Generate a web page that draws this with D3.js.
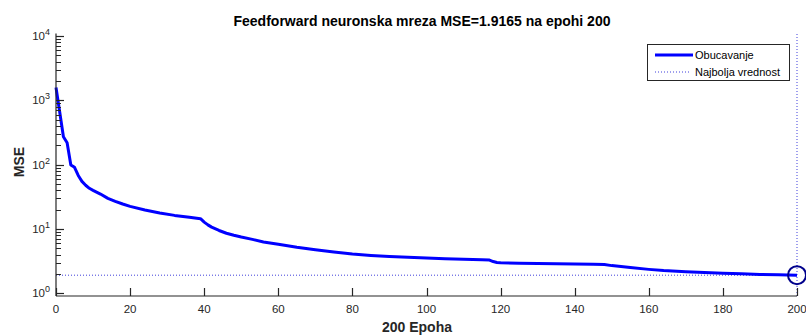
<!DOCTYPE html>
<html>
<head>
<meta charset="utf-8">
<script src="https://cdn.jsdelivr.net/npm/d3@7"></script>
<style>
  html, body { margin: 0; padding: 0; background: #fff; }
  svg { display: block; font-family: "Liberation Sans", Arial, Helvetica, sans-serif; }
</style>
</head>
<body>
<svg id="chart" width="806" height="336"></svg>
<script>
// Training record: epoch and mean squared error
const epochs = [0, 1, 2, 3, 4, 5, 6, 7, 8, 9, 10, 12, 14, 16, 18, 20, 24, 28, 32, 36, 39,
  40, 41, 42, 44, 46, 48, 50, 53, 56, 60, 65, 70, 75, 80, 85, 90, 95, 100, 105, 110, 115,
  117, 118, 119, 120, 125, 130, 135, 140, 145, 148, 150, 155, 160, 164, 170, 175, 180,
  185, 190, 195, 200];
const mse = [1590, 660, 272, 220, 99, 91, 68, 55, 48, 43, 40, 35, 30, 27, 24.5, 22.5, 19.8,
  17.8, 16.3, 15.2, 14.5, 12.8, 11.6, 10.7, 9.5, 8.6, 8.0, 7.5, 6.9, 6.3, 5.8, 5.2, 4.75,
  4.38, 4.08, 3.88, 3.74, 3.63, 3.54, 3.45, 3.38, 3.32, 3.29, 3.12, 3.02, 2.99, 2.95, 2.92,
  2.89, 2.86, 2.83, 2.80, 2.70, 2.52, 2.36, 2.26, 2.17, 2.11, 2.06, 2.01, 1.97, 1.94, 1.9165];
const bestEpoch = 200;
const bestMse = 1.9165;

const xTicks = [0, 20, 40, 60, 80, 100, 120, 140, 160, 180, 200];
const yExponents = [0, 1, 2, 3, 4];

const titleText = "Feedforward neuronska mreza MSE=1.9165 na epohi 200";
const xLabelText = "200 Epoha";
const yLabelText = "MSE";
const legendLabels = ["Obucavanje", "Najbolja vrednost"];

const axisColor = "#262626";
const plotLeft = 56, plotRight = 797, plotTop = 33.5, plotBottom = 296;

const svg = d3.select("#chart");

const x = d3.scaleLinear().domain([0, 200]).range([plotLeft, plotRight]);
const y = d3.scaleLog().domain([Math.pow(10, -0.041), Math.pow(10, 4.04)]).range([plotBottom, plotTop]);

// Dotted guide lines at the best epoch / best value
const dotStyle = g => g.attr("stroke", "#2a2ad8").attr("stroke-width", 1)
  .attr("stroke-dasharray", "1,2").attr("opacity", 0.9).attr("fill", "none");

svg.append("line")
  .attr("x1", x(0)).attr("x2", x(200))
  .attr("y1", y(bestMse)).attr("y2", y(bestMse))
  .call(dotStyle);
svg.append("line")
  .attr("x1", x(bestEpoch)).attr("x2", x(bestEpoch))
  .attr("y1", plotBottom).attr("y2", plotTop)
  .call(dotStyle);

// Training curve
const data = epochs.map((e, i) => [e, mse[i]]);
svg.append("path")
  .datum(data)
  .attr("fill", "none")
  .attr("stroke", "#0000ff")
  .attr("stroke-width", 3)
  .attr("stroke-linejoin", "round")
  .attr("d", d3.line().x(d => x(d[0])).y(d => y(d[1])));

// Best point marker
svg.append("circle")
  .attr("cx", x(bestEpoch)).attr("cy", y(bestMse)).attr("r", 9)
  .attr("fill", "none").attr("stroke", "#00008c").attr("stroke-width", 2);

// Y axis (log) with inward ticks
const yAxis = svg.append("g");
yAxis.append("line").attr("x1", plotLeft).attr("x2", plotLeft).attr("y1", plotTop).attr("y2", plotBottom)
  .attr("stroke", axisColor).attr("stroke-width", 1.2);
const minor = [];
for (let e = -1; e <= 4; e++) {
  for (let m = 2; m <= 9; m++) {
    const v = m * Math.pow(10, e);
    if (y(v) >= plotTop && y(v) <= plotBottom) minor.push(v);
  }
}
yAxis.selectAll("line.minor").data(minor).join("line").attr("class", "minor")
  .attr("x1", plotLeft).attr("x2", plotLeft + 5)
  .attr("y1", d => Math.round(y(d)) + 0.5).attr("y2", d => Math.round(y(d)) + 0.5)
  .attr("stroke", axisColor).attr("stroke-width", 1);
yAxis.selectAll("line.major").data(yExponents).join("line").attr("class", "major")
  .attr("x1", plotLeft).attr("x2", plotLeft + 8)
  .attr("y1", d => Math.round(y(Math.pow(10, d))) + 0.5).attr("y2", d => Math.round(y(Math.pow(10, d))) + 0.5)
  .attr("stroke", axisColor).attr("stroke-width", 1.2);
const yLab = yAxis.selectAll("text").data(yExponents).join("text")
  .attr("x", plotLeft - 6).attr("y", d => y(Math.pow(10, d)) + 4)
  .attr("text-anchor", "end")
  .attr("font-size", 11.5).attr("fill", axisColor);
yLab.append("tspan").text("10");
yLab.append("tspan").attr("dy", -5).attr("font-size", 9).text(d => d);

// X axis with inward ticks
const xAxis = svg.append("g");
xAxis.append("line").attr("x1", plotLeft).attr("x2", plotRight).attr("y1", plotBottom).attr("y2", plotBottom)
  .attr("stroke", axisColor).attr("stroke-width", 1.2);
xAxis.selectAll("line.tick").data(xTicks).join("line").attr("class", "tick")
  .attr("x1", d => Math.round(x(d)) + 0.5).attr("x2", d => Math.round(x(d)) + 0.5)
  .attr("y1", plotBottom).attr("y2", plotBottom - 8)
  .attr("stroke", axisColor).attr("stroke-width", 1.2);
xAxis.selectAll("text").data(xTicks).join("text")
  .attr("x", d => x(d)).attr("y", plotBottom + 17)
  .attr("text-anchor", "middle")
  .attr("font-size", 11.5).attr("fill", axisColor)
  .text(d => d);

// Titles
svg.append("text").attr("x", 422).attr("y", 26).attr("text-anchor", "middle")
  .attr("font-size", 14).attr("font-weight", "bold").attr("fill", "#000")
  .text(titleText);
svg.append("text").attr("x", 417).attr("y", 332).attr("text-anchor", "middle")
  .attr("font-size", 14).attr("font-weight", "bold").attr("fill", axisColor)
  .text(xLabelText);
svg.append("text").attr("transform", "translate(24,162) rotate(-90)")
  .attr("text-anchor", "middle")
  .attr("font-size", 14).attr("font-weight", "bold").attr("fill", axisColor)
  .text(yLabelText);

// Legend
const lg = svg.append("g");
lg.append("rect").attr("x", 647.5).attr("y", 44.5).attr("width", 142).attr("height", 36)
  .attr("fill", "#fff").attr("stroke", axisColor).attr("stroke-width", 1);
lg.append("line").attr("x1", 655).attr("x2", 693).attr("y1", 55).attr("y2", 55)
  .attr("stroke", "#0000ff").attr("stroke-width", 3);
lg.append("line").attr("x1", 655).attr("x2", 690).attr("y1", 72).attr("y2", 72)
  .call(dotStyle);
lg.selectAll("text").data(legendLabels).join("text")
  .attr("x", 695).attr("y", (d, i) => 59 + i * 17)
  .attr("font-size", 11).attr("fill", "#000")
  .text(d => d);
</script>
</body>
</html>
